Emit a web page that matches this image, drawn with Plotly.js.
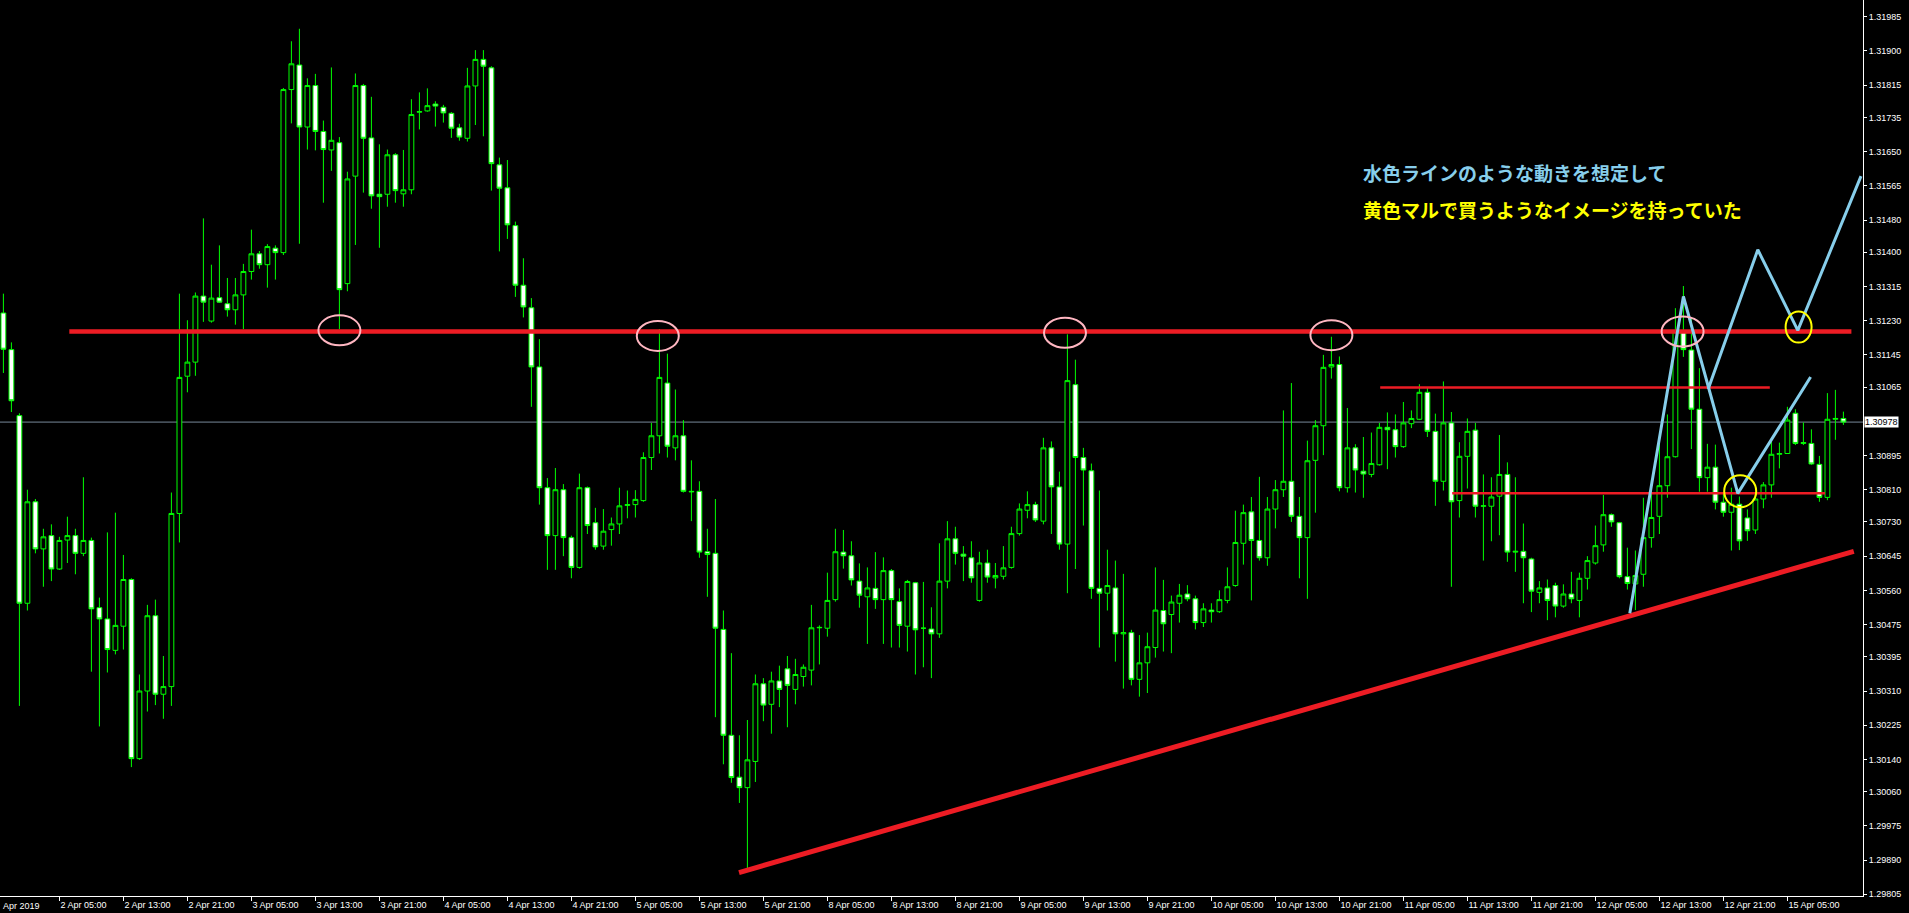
<!DOCTYPE html>
<html>
<head>
<meta charset="utf-8">
<script src="https://cdn.plot.ly/plotly-3.0.1.min.js"></script>
<style>
  html, body { margin: 0; padding: 0; background: #000; }
  #chart { width: 1909px; height: 913px; }
</style>
</head>
<body>
<div id="chart"></div>
<script>
// ---- Hourly candles (bar 1 = 1 Apr 22:00, one bar per hour) ----
const barOpen = [
1.31249,1.31158,1.30994,1.30528,1.30780,1.30663,1.30696,1.30613,1.30685,1.30696,
1.30652,1.30684,1.30517,1.30489,1.30411,1.30471,1.30587,1.30142,1.30310,1.30497,
1.30302,1.30321,1.30751,1.31092,1.31127,1.31291,1.31229,1.31287,1.31272,1.31257,
1.31294,1.31352,1.31396,1.31369,1.31410,1.31399,1.31804,1.31865,1.31711,1.31814,
1.31700,1.31654,1.31672,1.31322,1.31589,1.31814,1.31684,1.31544,1.31544,1.31642,
1.31545,1.31555,1.31748,1.31751,1.31768,1.31760,1.31745,1.31709,1.31683,1.31813,
1.31879,1.31858,1.31617,1.31560,1.31466,1.31318,1.31262,1.31115,1.30815,1.30696,
1.30810,1.30691,1.30617,1.30815,1.30728,1.30670,1.30711,1.30725,1.30771,1.30773,
1.30783,1.30890,1.30944,1.31075,1.30914,1.30944,1.30806,1.30806,1.30656,1.30652,
1.30463,1.30200,1.30096,1.30070,1.30135,1.30328,1.30277,1.30335,1.30365,1.30314,
1.30346,1.30362,1.30467,1.30466,1.30537,1.30655,1.30646,1.30583,1.30544,1.30565,
1.30537,1.30609,1.30532,1.30471,1.30579,1.30466,1.30464,1.30452,1.30583,1.30688,
1.30650,1.30641,1.30535,1.30628,1.30591,1.30595,1.30617,1.30701,1.30759,1.30773,
1.30732,1.30914,1.30817,1.30675,1.31071,1.30890,1.30857,1.30565,1.30553,1.30566,
1.30452,1.30455,1.30339,1.30380,1.30418,1.30510,1.30500,1.30528,1.30551,1.30539,
1.30480,1.30511,1.30507,1.30535,1.30572,1.30677,1.30755,1.30684,1.30641,1.30762,
1.30810,1.30831,1.30744,1.30691,1.30883,1.30969,1.31115,1.31121,1.30815,1.30914,
1.30856,1.30848,1.30872,1.30965,1.30959,1.30917,1.30974,1.30985,1.31052,1.30955,
1.30831,1.30976,1.30783,1.30893,1.30958,1.30769,1.30769,1.30794,1.30848,1.30655,
1.30657,1.30638,1.30555,1.30566,1.30572,1.30521,1.30551,1.30535,1.30590,1.30628,
1.30673,1.30748,1.30728,1.30594,1.30576,1.30600,1.30691,1.30744,1.30820,1.30892,
1.31205,1.31157,1.31010,1.30840,1.30866,1.30779,1.30754,1.30774,1.30740,1.30710,
1.30787,1.30822,1.30898,1.30900,1.31000,1.30925,1.30925,1.30873,1.30791,1.30985,
1.30987];
const barHigh = [
1.31297,1.31176,1.31000,1.30810,1.30787,1.30713,1.30724,1.30693,1.30743,1.30713,
1.30841,1.30691,1.30542,1.30704,1.30753,1.30648,1.30590,1.30351,1.30524,1.30537,
1.30397,1.30803,1.31297,1.31231,1.31300,1.31484,1.31369,1.31417,1.31336,1.31336,
1.31371,1.31456,1.31403,1.31420,1.31417,1.31808,1.31924,1.31955,1.31832,1.31843,
1.31727,1.31859,1.31686,1.31600,1.31844,1.31818,1.31786,1.31668,1.31655,1.31646,
1.31654,1.31780,1.31797,1.31807,1.31775,1.31766,1.31748,1.31719,1.31858,1.31902,
1.31902,1.31862,1.31635,1.31629,1.31476,1.31385,1.31286,1.31184,1.30839,1.30864,
1.30824,1.30696,1.30850,1.30818,1.30765,1.30762,1.30741,1.30815,1.30808,1.30809,
1.30903,1.30976,1.31209,1.31148,1.31059,1.30983,1.30883,1.30831,1.30713,1.30787,
1.30510,1.30404,1.30200,1.30238,1.30351,1.30342,1.30358,1.30373,1.30397,1.30390,
1.30376,1.30524,1.30473,1.30604,1.30713,1.30710,1.30682,1.30627,1.30617,1.30655,
1.30642,1.30613,1.30565,1.30586,1.30581,1.30581,1.30518,1.30677,1.30732,1.30718,
1.30670,1.30682,1.30656,1.30661,1.30628,1.30670,1.30718,1.30776,1.30806,1.30780,
1.30939,1.30930,1.30855,1.31196,1.31133,1.30914,1.30875,1.30808,1.30661,1.30634,
1.30601,1.30462,1.30449,1.30455,1.30617,1.30586,1.30547,1.30576,1.30573,1.30547,
1.30528,1.30528,1.30560,1.30617,1.30758,1.30773,1.30792,1.30842,1.30792,1.30834,
1.31007,1.31075,1.30792,1.30932,1.30983,1.31145,1.31190,1.31141,1.31013,1.30923,
1.30941,1.30952,1.30976,1.31002,1.30997,1.31028,1.31007,1.31072,1.31063,1.30999,
1.31079,1.31003,1.30928,1.30987,1.30976,1.30848,1.30841,1.30946,1.30878,1.30841,
1.30726,1.30641,1.30583,1.30587,1.30579,1.30575,1.30606,1.30604,1.30645,1.30721,
1.30797,1.30751,1.30730,1.30666,1.30659,1.30790,1.30834,1.30944,1.30997,1.31261,
1.31316,1.31238,1.31112,1.30924,1.30922,1.30800,1.30815,1.30793,1.30761,1.30797,
1.30829,1.30929,1.30927,1.31016,1.31010,1.30977,1.30960,1.30894,1.31050,1.31058,
1.31004];
const barLow = [
1.31100,1.31003,1.30273,1.30510,1.30652,1.30569,1.30583,1.30611,1.30628,1.30600,
1.30645,1.30358,1.30222,1.30356,1.30401,1.30413,1.30121,1.30139,1.30259,1.30275,
1.30241,1.30273,1.30679,1.31052,1.31093,1.31227,1.31225,1.31274,1.31240,1.31220,
1.31209,1.31332,1.31359,1.31312,1.31332,1.31393,1.31720,1.31421,1.31655,1.31653,
1.31523,1.31602,1.31209,1.31303,1.31418,1.31548,1.31508,1.31411,1.31513,1.31523,
1.31513,1.31544,1.31705,1.31749,1.31712,1.31722,1.31684,1.31677,1.31675,1.31716,
1.31688,1.31553,1.31402,1.31433,1.31289,1.31238,1.31016,1.30773,1.30611,1.30611,
1.30645,1.30590,1.30614,1.30700,1.30661,1.30661,1.30671,1.30700,1.30739,1.30741,
1.30780,1.30859,1.30900,1.30890,1.30883,1.30803,1.30732,1.30641,1.30544,1.30245,
1.30128,1.30082,1.30032,1.29869,1.30084,1.30235,1.30204,1.30270,1.30220,1.30277,
1.30321,1.30324,1.30376,1.30445,1.30532,1.30614,1.30572,1.30517,1.30427,1.30514,
1.30427,1.30418,1.30418,1.30408,1.30351,1.30369,1.30342,1.30442,1.30565,1.30624,
1.30583,1.30579,1.30532,1.30579,1.30565,1.30587,1.30614,1.30696,1.30739,1.30730,
1.30724,1.30700,1.30661,1.30553,1.30613,1.30721,1.30539,1.30418,1.30510,1.30383,
1.30316,1.30324,1.30296,1.30305,1.30393,1.30408,1.30404,1.30480,1.30533,1.30463,
1.30469,1.30480,1.30504,1.30528,1.30569,1.30624,1.30535,1.30634,1.30621,1.30714,
1.30792,1.30730,1.30590,1.30539,1.30753,1.30896,1.31086,1.30806,1.30803,1.30803,
1.30790,1.30841,1.30870,1.30861,1.30890,1.30914,1.30963,1.30983,1.30941,1.30770,
1.30808,1.30569,1.30741,1.30813,1.30741,1.30634,1.30682,1.30697,1.30631,1.30606,
1.30528,1.30506,1.30528,1.30486,1.30493,1.30517,1.30528,1.30493,1.30562,1.30624,
1.30656,1.30718,1.30590,1.30562,1.30511,1.30569,1.30666,1.30700,1.30790,1.30890,
1.31140,1.30911,1.30805,1.30805,1.30761,1.30743,1.30659,1.30660,1.30683,1.30700,
1.30764,1.30790,1.30863,1.30899,1.30921,1.30921,1.30872,1.30780,1.30784,1.30934,
1.30971];
const barClose = [
1.31159,1.31031,1.30528,1.30780,1.30663,1.30693,1.30613,1.30684,1.30696,1.30652,
1.30684,1.30514,1.30489,1.30413,1.30473,1.30587,1.30142,1.30310,1.30497,1.30302,
1.30321,1.30751,1.31089,1.31127,1.31291,1.31276,1.31286,1.31276,1.31257,1.31294,
1.31352,1.31396,1.31369,1.31414,1.31399,1.31804,1.31868,1.31711,1.31814,1.31700,
1.31655,1.31678,1.31307,1.31582,1.31814,1.31683,1.31540,1.31538,1.31642,1.31553,
1.31555,1.31742,1.31749,1.31764,1.31763,1.31746,1.31708,1.31686,1.31813,1.31879,
1.31862,1.31620,1.31559,1.31468,1.31318,1.31264,1.31115,1.30815,1.30696,1.30810,
1.30691,1.30617,1.30815,1.30721,1.30668,1.30707,1.30725,1.30770,1.30773,1.30786,
1.30890,1.30944,1.31089,1.30918,1.30944,1.30806,1.30805,1.30655,1.30649,1.30466,
1.30200,1.30095,1.30070,1.30139,1.30328,1.30275,1.30335,1.30314,1.30324,1.30351,
1.30369,1.30467,1.30468,1.30535,1.30656,1.30646,1.30586,1.30548,1.30566,1.30537,
1.30609,1.30537,1.30473,1.30582,1.30462,1.30466,1.30452,1.30583,1.30688,1.30652,
1.30645,1.30591,1.30628,1.30593,1.30597,1.30616,1.30701,1.30762,1.30773,1.30735,
1.30914,1.30817,1.30675,1.31081,1.30890,1.30859,1.30565,1.30553,1.30572,1.30452,
1.30455,1.30339,1.30380,1.30420,1.30511,1.30477,1.30531,1.30548,1.30539,1.30480,
1.30514,1.30507,1.30537,1.30569,1.30679,1.30753,1.30684,1.30641,1.30762,1.30810,
1.30831,1.30744,1.30691,1.30882,1.30969,1.31114,1.31121,1.30815,1.30914,1.30859,
1.30849,1.30875,1.30965,1.30959,1.30917,1.30976,1.30987,1.31052,1.30955,1.30831,
1.30976,1.30780,1.30893,1.30955,1.30769,1.30770,1.30792,1.30848,1.30655,1.30657,
1.30641,1.30558,1.30566,1.30535,1.30521,1.30551,1.30539,1.30590,1.30634,1.30671,
1.30748,1.30730,1.30594,1.30577,1.30597,1.30691,1.30741,1.30820,1.30892,1.31205,
1.31158,1.31010,1.30840,1.30866,1.30779,1.30754,1.30774,1.30683,1.30708,1.30787,
1.30822,1.30898,1.30900,1.30983,1.30925,1.30927,1.30874,1.30791,1.30985,1.30987,
1.30978];
const firstBar = 1;

// ---- Time axis labels (bar index -> label) ----
const xTickIndex = [8,16,24,32,40,48,56,64,72,80,88,96,104,112,120,128,136,144,152,160,168,176,184,192,200,208,216,224];
const xTickText = ['2 Apr 05:00','2 Apr 13:00','2 Apr 21:00','3 Apr 05:00','3 Apr 13:00','3 Apr 21:00',
  '4 Apr 05:00','4 Apr 13:00','4 Apr 21:00','5 Apr 05:00','5 Apr 13:00','5 Apr 21:00',
  '8 Apr 05:00','8 Apr 13:00','8 Apr 21:00','9 Apr 05:00','9 Apr 13:00','9 Apr 21:00',
  '10 Apr 05:00','10 Apr 13:00','10 Apr 21:00','11 Apr 05:00','11 Apr 13:00','11 Apr 21:00',
  '12 Apr 05:00','12 Apr 13:00','12 Apr 21:00','15 Apr 05:00'];
const firstDateLabel = 'Apr 2019';

// ---- Price axis labels ----
const yTickValues = [1.31985,1.31900,1.31815,1.31735,1.31650,1.31565,1.31480,1.31400,1.31315,1.31230,
  1.31145,1.31065,1.30895,1.30810,1.30730,1.30645,1.30560,1.30475,1.30395,1.30310,1.30225,1.30140,
  1.30060,1.29975,1.29890,1.29805];
const priceRange = [1.298008, 1.320265];
const barRange = [0.575, 233.45];

// ---- Drawn analysis lines (bar index, price) ----
const resistanceX = [9.24, 232.0];
const resistanceY = [1.31203, 1.31203];
const upperBandX = [173.1, 221.8];
const upperBandY = [1.31064, 1.31064];
const lowerBandX = [182.1, 228.7];
const lowerBandY = [1.30801, 1.30801];
const trendX = [92.95, 232.3];
const trendY = [1.29859, 1.30657];
const scenarioAX = [204.3, 211.0, 217.8, 226.9];
const scenarioAY = [1.30503, 1.31290, 1.30801, 1.31090];
const scenarioBX = [214.1, 220.3, 225.3, 233.2];
const scenarioBY = [1.31060, 1.31406, 1.31206, 1.31589];
const touchX = [43.0, 82.8, 133.7, 167.0, 210.9];
const touchY = [1.31206, 1.31192, 1.31200, 1.31194, 1.31203];
const buyX = [218.1, 225.4];
const buyY = [1.30806, 1.31214];

// ---- Notes ----
const noteText = ['水色ラインのような動きを想定して', '黄色マルで買うようなイメージを持っていた'];
const noteX = [170.7, 170.7];
const noteY = [1.31597, 1.31507];

// ---- Build ----
const barX = barOpen.map((_, k) => firstBar + k);
const lastClose = barClose[barClose.length - 1];
const RED = '#ed1c24', GREEN = '#00ff00', SKY = '#87ceeb';

function lineTrace(x, y, color, width) {
  return {type: 'scatter', mode: 'lines', x: x, y: y, line: {color: color, width: width},
          hoverinfo: 'skip', showlegend: false, cliponaxis: true};
}

const traces = [
  {
    type: 'candlestick', x: barX, open: barOpen, high: barHigh, low: barLow, close: barClose,
    increasing: {line: {color: GREEN, width: 1}, fillcolor: '#000000'},
    decreasing: {line: {color: GREEN, width: 1}, fillcolor: '#ffffff'},
    whiskerwidth: 0, hoverinfo: 'skip', showlegend: false
  },
  lineTrace(trendX, trendY, RED, 5),
  lineTrace(resistanceX, resistanceY, RED, 4.5),
  lineTrace(upperBandX, upperBandY, RED, 2.5),
  lineTrace(lowerBandX, lowerBandY, RED, 2.5),
  lineTrace(scenarioAX, scenarioAY, SKY, 3),
  lineTrace(scenarioBX, scenarioBY, SKY, 3)
];

const shapes = [
  {type: 'line', xref: 'paper', yref: 'y', x0: 0, x1: 1, y0: lastClose, y1: lastClose,
   line: {color: '#778899', width: 1}, layer: 'below'}
];
touchX.forEach((x, k) => shapes.push({
  type: 'circle', xref: 'x', yref: 'y', xsizemode: 'pixel', ysizemode: 'pixel',
  xanchor: x, yanchor: touchY[k], x0: -21, x1: 21, y0: -15, y1: 15,
  line: {color: '#ffb6c1', width: 2}, layer: 'above'
}));
const buySize = [[32, 32], [26, 31]];
buyX.forEach((x, k) => shapes.push({
  type: 'circle', xref: 'x', yref: 'y', xsizemode: 'pixel', ysizemode: 'pixel',
  xanchor: x, yanchor: buyY[k], x0: -buySize[k][0] / 2, x1: buySize[k][0] / 2,
  y0: -buySize[k][1] / 2, y1: buySize[k][1] / 2,
  line: {color: '#ffff00', width: 2}, layer: 'above'
}));

const noteColors = [SKY, '#ffff00'];
const annotations = noteText.map((t, k) => ({
  text: '<b>' + t + '</b>', x: noteX[k], y: noteY[k], xref: 'x', yref: 'y',
  xanchor: 'left', yanchor: 'middle', showarrow: false,
  font: {family: '"Noto Sans CJK JP", sans-serif', size: 19, color: noteColors[k]}
}));
annotations.push({
  text: lastClose.toFixed(5), xref: 'paper', yref: 'y', x: 1, y: lastClose,
  xanchor: 'left', yanchor: 'middle', xshift: 1, showarrow: false,
  bgcolor: '#ffffff', borderpad: 0,
  font: {family: '"Liberation Sans", Arial, sans-serif', size: 9, color: '#000000'}
});
annotations.push({
  text: firstDateLabel, xref: 'paper', yref: 'paper', x: 0, y: 0,
  xanchor: 'left', yanchor: 'top', xshift: 1, yshift: -3, showarrow: false,
  font: {family: '"Liberation Sans", Arial, sans-serif', size: 9, color: '#ffffff'}
});

const axisFont = {family: '"Liberation Sans", Arial, sans-serif', size: 9, color: '#ffffff'};
const layout = {
  width: 1909, height: 913,
  margin: {l: 0, r: 46, t: 0, b: 17, pad: 0},
  paper_bgcolor: '#000000', plot_bgcolor: '#000000',
  showlegend: false, hovermode: false,
  boxgap: 0.4, boxgroupgap: 0,
  xaxis: {
    type: 'linear', range: barRange, fixedrange: true,
    rangeslider: {visible: false},
    showgrid: false, zeroline: false,
    showline: true, linecolor: '#ffffff', linewidth: 1,
    ticks: 'outside', ticklen: 4, tickcolor: '#ffffff', tickwidth: 1,
    tickmode: 'array', tickvals: xTickIndex, ticktext: xTickText,
    ticklabelposition: 'outside right', tickfont: axisFont
  },
  yaxis: {
    side: 'right', range: priceRange, fixedrange: true,
    showgrid: false, zeroline: false,
    showline: true, linecolor: '#ffffff', linewidth: 1,
    ticks: 'outside', ticklen: 3, tickcolor: '#ffffff', tickwidth: 1,
    tickmode: 'array', tickvals: yTickValues, ticktext: yTickValues.map(v => v.toFixed(5)),
    tickfont: axisFont
  },
  shapes: shapes,
  annotations: annotations
};

Plotly.newPlot('chart', traces, layout, {staticPlot: true, displayModeBar: false});
</script>
</body>
</html>
